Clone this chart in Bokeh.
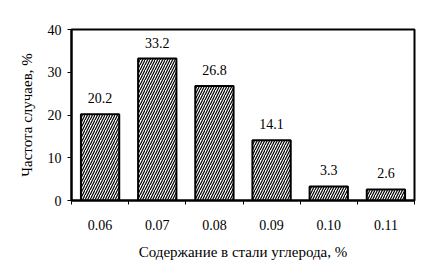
from bokeh.plotting import figure
from bokeh.models import Range1d, FixedTicker, ColumnDataSource
from bokeh.core.properties import value
from bokeh.embed import file_html
from bokeh.resources import INLINE

categories = ["0.06", "0.07", "0.08", "0.09", "0.10", "0.11"]
values = [20.2, 33.2, 26.8, 14.1, 3.3, 2.6]
y_ticks = [0, 10, 20, 30, 40]
x_title = "Содержание в стали углерода, %"
y_title = "Частота случаев, %"

FONT = "Liberation Serif"

xs = [i + 0.5 for i in range(len(categories))]
src = ColumnDataSource(dict(x=xs, top=values, label=[f"{v:.1f}" for v in values]))

p = figure(width=430, height=278, output_backend="svg", toolbar_location=None,
           x_range=Range1d(0, len(categories)), y_range=Range1d(0, 40),
           min_border_left=71, min_border_right=16, min_border_top=29, min_border_bottom=78)
p.background_fill_color = "white"
p.border_fill_color = "white"
p.outline_line_color = "black"
p.outline_line_width = 2
p.xgrid.visible = False
p.ygrid.visible = False

p.vbar(x="x", top="top", bottom=0, width=0.67, source=src,
       fill_color="white", line_color="black", line_width=2,
       hatch_pattern="/", hatch_color="black", hatch_scale=5, hatch_weight=1.2)

p.text(x="x", y="top", text="label", source=src, text_align="center",
       text_baseline="bottom", y_offset=-11, text_font=value(FONT),
       text_font_size="14px", text_color="black")

xa = p.xaxis[0]
xa.ticker = FixedTicker(ticks=xs, minor_ticks=list(range(len(categories) + 1)))
xa.major_label_overrides = {x: c for x, c in zip(xs, categories)}
xa.major_tick_in = 0
xa.major_tick_out = 0
xa.minor_tick_in = 0
xa.minor_tick_out = 4
xa.minor_tick_line_color = "black"
xa.major_label_standoff = 15
xa.axis_label = x_title
xa.axis_label_standoff = 11

ya = p.yaxis[0]
ya.ticker = FixedTicker(ticks=y_ticks)
ya.major_tick_in = 0
ya.major_tick_out = 4
ya.minor_tick_out = 0
ya.major_label_standoff = 6
ya.axis_label = y_title
ya.axis_label_standoff = 10

for ax in (xa, ya):
    ax.axis_line_width = 2
    ax.axis_line_color = "black"
    ax.major_tick_line_color = "black"
    ax.major_label_text_font = FONT
    ax.major_label_text_font_size = "14px"
    ax.major_label_text_color = "black"
    ax.axis_label_text_font = FONT
    ax.axis_label_text_font_size = "15px"
    ax.axis_label_text_font_style = "normal"
    ax.axis_label_text_color = "black"

open("out.html", "w").write(file_html(p, INLINE))
